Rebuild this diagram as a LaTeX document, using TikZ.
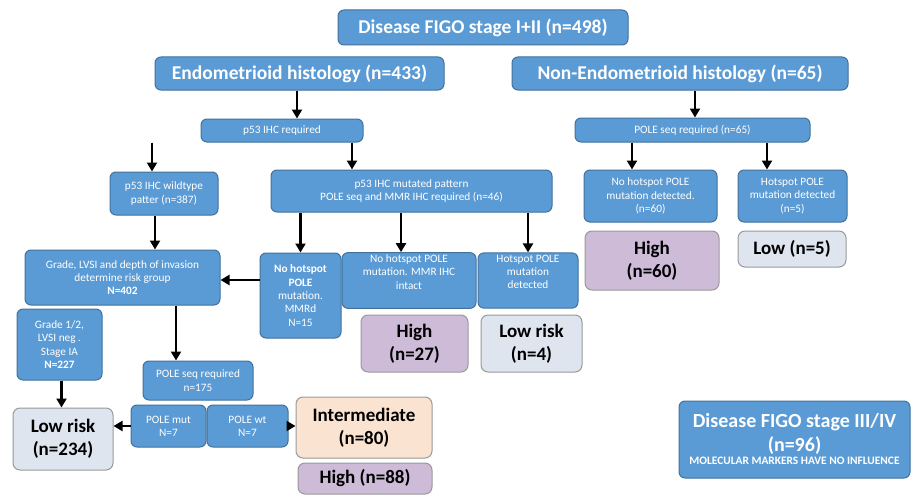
\documentclass[tikz,border=0pt]{standalone}
\usepackage{fontspec}
\setmainfont{Carlito}
\usetikzlibrary{arrows.meta}
\definecolor{bfill}{HTML}{5B9BD5}
\definecolor{bdraw}{HTML}{41719C}
\definecolor{pfill}{HTML}{CDBBD8}
\definecolor{lfill}{HTML}{DEE5EF}
\definecolor{ofill}{HTML}{FBE3D2}
\definecolor{odraw}{HTML}{9A9A9A}
\tikzset{
  bbox/.style={draw=bdraw, fill=bfill, line width=1pt, rounded corners=6pt, text=white, align=center, inner sep=2pt},
  obox/.style={draw=odraw, line width=1pt, rounded corners=7pt, text=black, align=center, inner sep=2pt, font=\bfseries\fontsize{19}{23}\selectfont},
  small/.style={font=\fontsize{11.3}{13.3}\selectfont},
  big/.style={font=\bfseries\fontsize{19.5}{22}\selectfont},
  arr/.style={line width=2.6pt, -{Triangle[width=10pt,length=9pt]}},
}
\begin{document}
\begin{tikzpicture}[x=1pt,y=-1pt]
\useasboundingbox (0,0) rectangle (918,495);
\fill[white] (0,0) rectangle (918,495);
% level 1-2
\node[bbox, big, minimum width=290pt, minimum height=35pt] (top) at (483,27.5) {Disease FIGO stage I+II (n=498)};
\node[bbox, big, minimum width=289pt, minimum height=33pt] (endo) at (299.5,73.5) {Endometrioid histology (n=433)};
\node[bbox, big, minimum width=336pt, minimum height=33pt] (nonendo) at (680,73.5) {Non-Endometrioid histology (n=65)};
% level 3
\node[bbox, small, minimum width=162pt, minimum height=23pt] (p53req) at (282,130.5) {p53 IHC required};
\node[bbox, small, minimum width=235pt, minimum height=24pt] (pole65) at (692.5,130) {POLE seq required (n=65)};
% level 4
\node[bbox, small, minimum width=108pt, minimum height=43pt] (wt) at (164,193.5) {p53 IHC wildtype\\patter (n=387)};
\node[bbox, small, minimum width=281pt, minimum height=42pt] (mut) at (411.5,191) {p53 IHC mutated pattern\\POLE seq and MMR IHC required (n=46)};
\node[bbox, small, minimum width=133pt, minimum height=52pt] (nohot60) at (650.5,196) {No hotspot POLE\\mutation detected.\\(n=60)};
\node[bbox, small, minimum width=109pt, minimum height=52pt] (hot5) at (792.5,196) {Hotspot POLE\\mutation detected\\(n=5)};
\node[obox, fill=pfill, minimum width=134pt, minimum height=59pt] (high60) at (652,260.5) {High\\(n=60)};
\node[obox, fill=lfill, minimum width=108pt, minimum height=36pt] (low5) at (792,249) {Low (n=5)};
% level 5
\node[bbox, small, minimum width=195pt, minimum height=55pt] (grade) at (122.5,277.5) {Grade, LVSI and depth of invasion\\determine risk group\\\textbf{N=402}};
\node[bbox, small, minimum width=81pt, minimum height=85pt] (mmrd) at (300.5,295.5) {\textbf{No hotspot}\\\textbf{POLE}\\mutation.\\MMRd\\N=15};
\node[bbox, small, minimum width=134pt, minimum height=55pt] (intact) at (409,280.5) {No hotspot POLE\\mutation. MMR IHC\\intact\\[4pt]};
\node[bbox, small, minimum width=100pt, minimum height=55pt] (hotspot) at (528,280.5) {Hotspot POLE\\mutation\\detected\\[4pt]};
\node[obox, fill=pfill, minimum width=107pt, minimum height=57pt] (high27) at (414.5,343.5) {High\\(n=27)};
\node[obox, fill=lfill, minimum width=101pt, minimum height=57pt] (low4) at (531.5,343.5) {Low risk\\(n=4)};
% lower left
\node[bbox, small, minimum width=85pt, minimum height=71pt] (grade12) at (59.5,344.5) {Grade 1/2,\\LVSI neg .\\Stage IA\\\textbf{N=227}};
\node[bbox, small, minimum width=110pt, minimum height=39pt] (pole175) at (198,380.5) {POLE seq required\\n=175};
\node[bbox, small, minimum width=75pt, minimum height=42pt] (polemut) at (168.5,426) {POLE mut\\N=7};
\node[bbox, small, minimum width=81pt, minimum height=42pt] (polewt) at (247.5,426) {POLE wt\\N=7};
\node[obox, fill=lfill, minimum width=100pt, minimum height=62pt] (low234) at (63,439) {Low risk\\(n=234)};
\node[obox, fill=ofill, minimum width=136pt, minimum height=61pt] (inter) at (364,427.5) {Intermediate\\(n=80)};
\node[obox, fill=pfill, minimum width=134pt, minimum height=31pt] (high88) at (365,478.5) {High (n=88)};
% stage III/IV
\node[bbox, font=\bfseries\fontsize{20}{24}\selectfont, minimum width=231pt, minimum height=77pt] (stage34) at (794.5,439.5) {Disease FIGO stage III/IV\\(n=96)\\[-11pt]{\fontsize{11.4}{12}\selectfont MOLECULAR MARKERS HAVE NO INFLUENCE}};
% arrows
\draw[arr] ([xshift=15pt]p53req.north |- endo.south) -- ([xshift=15pt]p53req.north);
\draw[arr] ([xshift=2.5pt]pole65.north |- nonendo.south) -- ([xshift=2.5pt]pole65.north);
\draw[arr] ([xshift=-12pt]wt.north |- p53req.south) -- ([xshift=-12pt]wt.north);
\draw[arr] ([xshift=-59.5pt]mut.north |- p53req.south) -- ([xshift=-59.5pt]mut.north);
\draw[arr] ([xshift=-18.5pt]nohot60.north |- pole65.south) -- ([xshift=-18.5pt]nohot60.north);
\draw[arr] ([xshift=-25.5pt]hot5.north |- pole65.south) -- ([xshift=-25.5pt]hot5.north);
\draw[arr] ([xshift=-9pt]wt.south) -- ([xshift=-9pt]wt.south |- grade.north);
\draw[arr] (mmrd.north |- mut.south) -- (mmrd.north);
\draw[arr] ([xshift=-8pt]intact.north |- mut.south) -- ([xshift=-8pt]intact.north);
\draw[arr] (hotspot.north |- mut.south) -- (hotspot.north);
\draw[arr] ([yshift=15.5pt]mmrd.west) -- ([yshift=15.5pt]mmrd.west -| grade.east);
\draw[arr] ([xshift=-22pt]pole175.north |- grade.south) -- ([xshift=-22pt]pole175.north);
\draw[arr] ([xshift=2pt]grade12.south) -- ([xshift=2pt]grade12.south |- low234.north);
\draw[arr] (polemut.west) -- (polemut.west -| low234.east);
\draw[arr] (polewt.east) -- (polewt.east -| inter.west);
\end{tikzpicture}
\end{document}
